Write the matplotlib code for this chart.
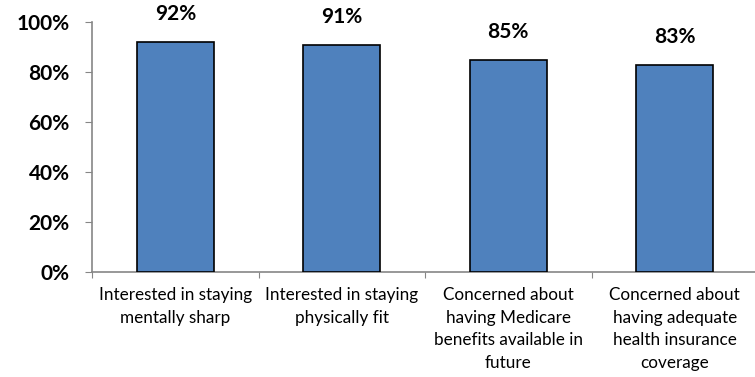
import matplotlib
matplotlib.use("Agg")
import matplotlib.pyplot as plt
from matplotlib.ticker import FixedLocator, NullFormatter

categories = [
    "Interested in staying\nmentally sharp",
    "Interested in staying\nphysically fit",
    "Concerned about\nhaving Medicare\nbenefits available in\nfuture",
    "Concerned about\nhaving adequate\nhealth insurance\ncoverage",
]
values = [92, 91, 85, 83]
yticks = [0, 20, 40, 60, 80, 100]

plt.rcParams['font.family'] = ['Lato', 'DejaVu Sans']

fig = plt.figure(figsize=(7.55, 3.77), dpi=100)
W, H = 755, 377
ax = fig.add_axes([92 / W, 1 - 272 / H, (758 - 92) / W, (272 - 22) / H])

x = list(range(len(values)))
ax.bar(x, values, width=0.46, color="#4F81BD", edgecolor="black", linewidth=1.2, zorder=3)
for xi, v in zip(x, values):
    ax.text(xi, v + 7, f"{v}%", ha="center", va="bottom", fontsize=15, fontweight="bold")

ax.set_xlim(-0.5, len(values) - 0.5)
ax.set_ylim(0, 100)
ax.set_yticks(yticks)
ax.set_yticklabels([f"{t}%" for t in yticks], fontsize=15, fontweight="bold")

ax.xaxis.set_major_locator(FixedLocator([i - 0.5 for i in range(len(values) + 1)]))
ax.xaxis.set_major_formatter(NullFormatter())
ax.xaxis.set_minor_locator(FixedLocator(x))
ax.set_xticklabels(categories, minor=True, fontsize=12.3, linespacing=1.5)
ax.tick_params(axis="x", which="minor", length=0, pad=11)
ax.tick_params(axis="x", which="major", length=4, color="#868686", direction="out")
ax.tick_params(axis="y", length=5, color="#868686", direction="out", pad=11)

for s in ["top", "right"]:
    ax.spines[s].set_visible(False)
for s in ["left", "bottom"]:
    ax.spines[s].set_color("#868686")
    ax.spines[s].set_linewidth(1.2)

fig.savefig("out.png", dpi=100)
